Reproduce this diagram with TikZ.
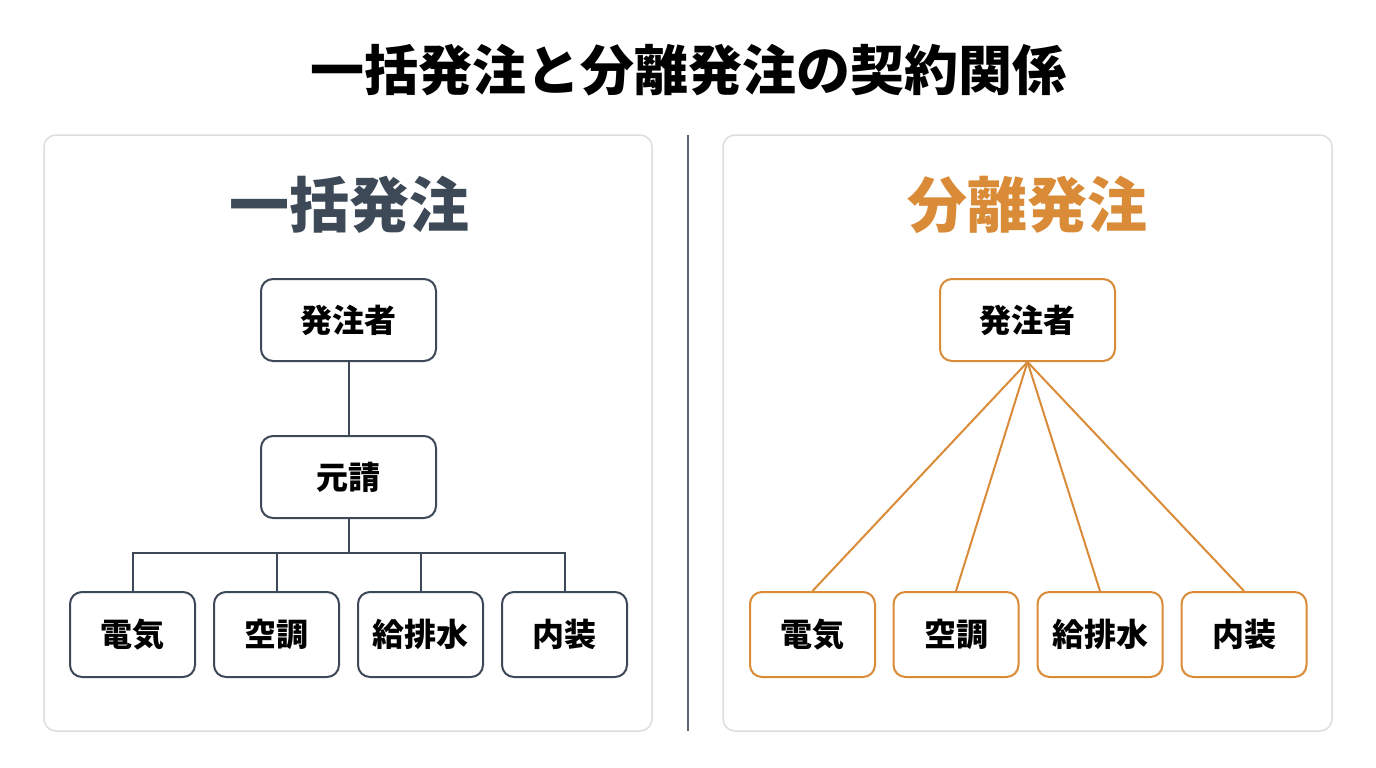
\documentclass[tikz,border=0pt]{standalone}
\usepackage{fontspec}
\newfontfamily\cjk{Noto Sans CJK JP}
\definecolor{slate}{HTML}{3E4957}
\definecolor{orng}{HTML}{D98B38}
\definecolor{panelb}{HTML}{DDDDDD}
\tikzset{
  panel/.style={draw=panelb, line width=1.5pt, fill=white, rounded corners=12pt},
  boxL/.style={draw=slate, line width=2pt, fill=white, rounded corners=12pt, font=\cjk\bfseries\fontsize{32}{32}\selectfont, text=black},
  boxR/.style={draw=orng, line width=2pt, fill=white, rounded corners=12pt, font=\cjk\bfseries\fontsize{32}{32}\selectfont, text=black},
  topbox/.style={minimum width=175pt, minimum height=82pt, inner sep=0pt},
  leaf/.style={minimum width=125pt, minimum height=85pt, inner sep=0pt},
  linkL/.style={draw=slate, line width=2pt},
  linkR/.style={draw=orng, line width=2pt}
}
\begin{document}
\begin{tikzpicture}[x=1pt,y=-1pt]
\useasboundingbox[fill=white] (0,0) rectangle (1376,768);
% title
\node[font=\cjk\bfseries\fontsize{54}{54}\selectfont, text=black] (title) at (688,70) {一括発注と分離発注の契約関係};
% panels
\draw[panel] (44,135) rectangle (652,731);
\draw[panel] (723,135) rectangle (1332,731);
\draw[draw=slate!85, line width=1.5pt] (688,135) -- (688,731);
% headers
\node[font=\cjk\bfseries\fontsize{60}{60}\selectfont, text=slate] (hL) at (349,205) {一括発注};
\node[font=\cjk\bfseries\fontsize{60}{60}\selectfont, text=orng] (hR) at (1027,205) {分離発注};
% left tree
\node[boxL, topbox] (ownL) at (348.5,320) {発注者};
\node[boxL, topbox] (gc) at (348.5,477) {元請};
\node[boxL, leaf] (l1) at (132.5,634.5) {電気};
\node[boxL, leaf] (l2) at (276.5,634.5) {空調};
\node[boxL, leaf] (l3) at (420.5,634.5) {給排水};
\node[boxL, leaf] (l4) at (564.5,634.5) {内装};
\coordinate (bus) at (348.5,553);
\draw[linkL] (ownL.south) -- (gc.north);
\draw[linkL] (gc.south) -- (bus);
\draw[linkL] (l1.north) |- (bus);
\draw[linkL] (l4.north) |- (bus);
\draw[linkL] (l2.north) -- (l2.north |- bus);
\draw[linkL] (l3.north) -- (l3.north |- bus);
% right tree
\node[boxR, topbox] (ownR) at (1027.5,320) {発注者};
\node[boxR, leaf] (r1) at (812.5,634.5) {電気};
\node[boxR, leaf] (r2) at (956,634.5) {空調};
\node[boxR, leaf] (r3) at (1100,634.5) {給排水};
\node[boxR, leaf] (r4) at (1244,634.5) {内装};
\draw[linkR] (ownR.south) -- (r1.north);
\draw[linkR] (ownR.south) -- (r2.north);
\draw[linkR] (ownR.south) -- (r3.north);
\draw[linkR] (ownR.south) -- (r4.north);
\end{tikzpicture}
\end{document}
